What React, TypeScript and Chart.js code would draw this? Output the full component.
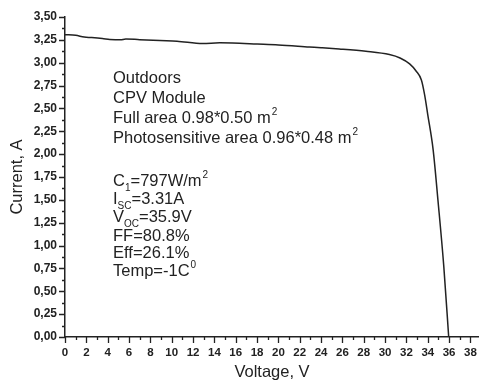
import React, { useEffect, useRef } from "react";
import { Chart, registerables } from "chart.js";

Chart.register(...registerables);

const voltages = [0, 1, 1.8, 2.5, 3.5, 4.2, 5.2, 5.7, 7, 8.9, 10.5, 12.9, 14.5, 15.7, 18, 20, 22.9, 24, 25.7, 28.2, 30.4, 31.4, 32.3, 32.9, 33.4, 33.7, 34.0, 34.5, 34.95, 35.5, 35.96];
const currents = [3.307, 3.3, 3.28, 3.275, 3.265, 3.255, 3.25, 3.26, 3.252, 3.242, 3.235, 3.21, 3.218, 3.216, 3.205, 3.195, 3.173, 3.165, 3.151, 3.125, 3.089, 3.052, 2.987, 2.91, 2.81, 2.65, 2.43, 2.05, 1.5, 0.772, 0];

const xTickValues = Array.from({ length: 39 }, (_, i) => i);
const yTickValues = Array.from({ length: 15 }, (_, i) => i * 0.25);

type Seg = { t: string; k?: "sub" | "sup" };
const annotationLines: Seg[][] = [
  [{ t: "Outdoors" }],
  [{ t: "CPV Module" }],
  [{ t: "Full area 0.98*0.50 m" }, { t: "2", k: "sup" }],
  [{ t: "Photosensitive area 0.96*0.48 m" }, { t: "2", k: "sup" }],
  [{ t: "C" }, { t: "1", k: "sub" }, { t: "=797W/m" }, { t: "2", k: "sup" }],
  [{ t: "I" }, { t: "SC", k: "sub" }, { t: "=3.31A" }],
  [{ t: "V" }, { t: "OC", k: "sub" }, { t: "=35.9V" }],
  [{ t: "FF=80.8%" }],
  [{ t: "Eff=26.1%" }],
  [{ t: "Temp=-1C" }, { t: "0", k: "sup" }],
];
const annotationX = 4.5;
const annotationYs = [2.84, 2.63, 2.41, 2.19, 1.72, 1.52, 1.32, 1.12, 0.93, 0.73];

const FONT = "'Liberation Sans', Arial, sans-serif";
const INK = "#222";

const decorPlugin = {
  id: "decor",
  afterDraw(chart: any) {
    const ctx = chart.ctx;
    const xs = chart.scales.x;
    const ys = chart.scales.y;
    const area = chart.chartArea;
    ctx.save();
    ctx.strokeStyle = INK;
    ctx.lineWidth = 1.3;
    ctx.beginPath();
    xTickValues.forEach((v) => {
      const px = Math.round(xs.getPixelForValue(v)) + 0.5;
      const len = v % 2 === 0 ? 6 : 3;
      ctx.moveTo(px, area.bottom);
      ctx.lineTo(px, area.bottom + len);
    });
    yTickValues.forEach((v, i) => {
      const py = Math.round(ys.getPixelForValue(v)) + 0.5;
      ctx.moveTo(area.left, py);
      ctx.lineTo(area.left - 6, py);
      if (i < yTickValues.length - 1) {
        const pm = Math.round(ys.getPixelForValue(v + 0.125)) + 0.5;
        ctx.moveTo(area.left, pm);
        ctx.lineTo(area.left - 3, pm);
      }
    });
    ctx.stroke();

    ctx.fillStyle = INK;
    ctx.textBaseline = "alphabetic";
    ctx.textAlign = "left";
    annotationLines.forEach((line, li) => {
      let x = xs.getPixelForValue(annotationX);
      const y = ys.getPixelForValue(annotationYs[li]) + 6;
      line.forEach((seg) => {
        if (seg.k === "sub") {
          ctx.font = `10px ${FONT}`;
          ctx.fillText(seg.t, x, y + 5);
        } else if (seg.k === "sup") {
          ctx.font = `10px ${FONT}`;
          ctx.fillText(seg.t, x + 1, y - 8);
        } else {
          ctx.font = `16.5px ${FONT}`;
          ctx.fillText(seg.t, x, y);
        }
        x += ctx.measureText(seg.t).width;
      });
    });
    ctx.restore();
  },
};

export default function App() {
  const ref = useRef<HTMLCanvasElement | null>(null);
  useEffect(() => {
    if (!ref.current) return;
    const chart = new Chart(ref.current, {
      type: "line",
      data: {
        datasets: [
          {
            data: voltages.map((v, i) => ({ x: v, y: currents[i] })),
            borderColor: INK,
            borderWidth: 1.5,
            pointRadius: 0,
            cubicInterpolationMode: "monotone",
            fill: false,
          },
        ],
      },
      options: {
        animation: false,
        responsive: true,
        maintainAspectRatio: false,
        layout: { padding: { top: 17, right: 0, left: 0, bottom: 0 } },
        plugins: { legend: { display: false }, tooltip: { enabled: false } },
        scales: {
          x: {
            type: "linear",
            min: 0,
            max: 38.8,
            afterFit: (s: any) => {
              s.height = 44;
              s.paddingLeft = 0;
              s.paddingRight = 0;
            },
            afterBuildTicks: (s: any) => {
              s.ticks = xTickValues.map((v) => ({ value: v }));
            },
            grid: { display: false, drawTicks: false },
            border: { display: true, color: INK, width: 1.5 },
            ticks: {
              autoSkip: false,
              maxRotation: 0,
              padding: 9,
              color: INK,
              font: { family: FONT, size: 11.5, weight: "bold" },
              callback: (v: any) => (Number(v) % 2 === 0 ? String(v) : ""),
            },
            title: {
              display: true,
              text: "Voltage, V",
              color: INK,
              font: { family: FONT, size: 16.5 },
              padding: { top: 0, bottom: -1 },
            },
          },
          y: {
            type: "linear",
            min: 0,
            max: 3.5,
            afterFit: (s: any) => {
              s.width = 65;
              s.paddingTop = 0;
              s.paddingBottom = 0;
            },
            afterBuildTicks: (s: any) => {
              s.ticks = yTickValues.map((v) => ({ value: v }));
            },
            grid: { display: false, drawTicks: false },
            border: { display: true, color: INK, width: 1.5 },
            ticks: {
              autoSkip: false,
              padding: 8,
              color: INK,
              font: { family: FONT, size: 12, weight: "bold" },
              callback: (v: any) => Number(v).toFixed(2).replace(".", ","),
            },
            title: {
              display: true,
              text: "Current, A",
              color: INK,
              font: { family: FONT, size: 16.5 },
              padding: { top: 8, bottom: 0 },
            },
          },
        },
      },
      plugins: [decorPlugin],
    } as any);
    return () => chart.destroy();
  }, []);
  return (
    <div style={{ position: "fixed", left: 0, top: 0, width: 479, height: 381, background: "#fff" }}>
      <canvas ref={ref} />
    </div>
  );
}
